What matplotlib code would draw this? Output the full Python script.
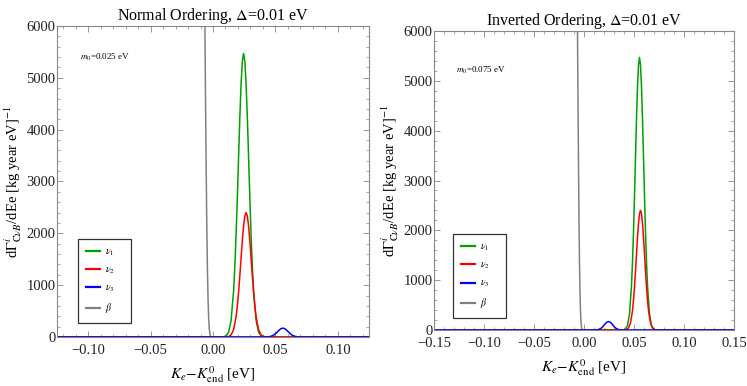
import matplotlib
matplotlib.use("Agg")
import matplotlib.pyplot as plt
import matplotlib.ticker as mtick

plt.rcParams["font.family"] = ["Liberation Serif", "DejaVu Serif"]
plt.rcParams["mathtext.fontset"] = "stix"

# ---- data ----
# normal ordering, m0 = 0.025 eV
no_green_x = [-0.15, 0.0085, 0.0105, 0.0125, 0.0145, 0.0165, 0.0175, 0.0185, 0.0195, 0.0205, 0.0215, 0.0225, 0.0235,
              0.0245, 0.0255, 0.0265, 0.0275, 0.0285, 0.0295, 0.0305, 0.0315, 0.0325, 0.0345, 0.0365, 0.0385, 0.0405, 0.15]
no_green_y = [0, 4, 21, 92, 322, 892, 1364, 1971, 2692, 3476, 4238, 4884, 5317,
              5470, 5317, 4884, 4238, 3476, 2692, 1971, 1364, 892, 322, 92, 21, 4, 0]
no_red_x = [-0.15, 0.0105, 0.0125, 0.0145, 0.0165, 0.0185, 0.0195, 0.0205, 0.0215, 0.0225, 0.0235, 0.0245, 0.0255,
            0.0265, 0.0275, 0.0285, 0.0295, 0.0305, 0.0315, 0.0325, 0.0335, 0.0345, 0.0365, 0.0385, 0.0405, 0.0425, 0.15]
no_red_y = [0, 2, 9, 41, 141, 391, 599, 865, 1181, 1525, 1860, 2143, 2333,
            2400, 2333, 2143, 1860, 1525, 1181, 865, 599, 391, 141, 41, 9, 2, 0]
no_blue_x = [-0.15, 0.040, 0.042, 0.044, 0.046, 0.048, 0.049, 0.050, 0.051, 0.052, 0.053, 0.054, 0.055,
             0.056, 0.057, 0.058, 0.059, 0.060, 0.061, 0.062, 0.063, 0.064, 0.066, 0.068, 0.070, 0.072, 0.15]
no_blue_y = [0, 0, 1, 3, 10, 28, 42, 61, 84, 108, 132, 152, 165,
             170, 165, 152, 132, 108, 84, 61, 42, 28, 10, 3, 1, 0, 0]

# inverted ordering, m0 = 0.075 eV
io_green_x = [-0.15, 0.0395, 0.0415, 0.0435, 0.0455, 0.0475, 0.0485, 0.0495, 0.0505, 0.0515, 0.0525, 0.0535, 0.0545,
              0.0555, 0.0565, 0.0575, 0.0585, 0.0595, 0.0605, 0.0615, 0.0625, 0.0635, 0.0655, 0.0675, 0.0695, 0.0715, 0.15]
io_green_y = no_green_y
io_red_x = [-0.15, 0.0405, 0.0425, 0.0445, 0.0465, 0.0485, 0.0495, 0.0505, 0.0515, 0.0525, 0.0535, 0.0545, 0.0555,
            0.0565, 0.0575, 0.0585, 0.0595, 0.0605, 0.0615, 0.0625, 0.0635, 0.0645, 0.0665, 0.0685, 0.0705, 0.0725, 0.15]
io_red_y = no_red_y
io_blue_x = no_green_x
io_blue_y = [0, 0, 1, 3, 10, 28, 42, 61, 84, 108, 132, 152, 165,
             170, 165, 152, 132, 108, 84, 61, 42, 28, 10, 3, 1, 0, 0]

# beta spectrum near the endpoint (same in both panels)
beta_x = [-0.150, -0.0080, -0.0075, -0.0070, -0.0065, -0.0060, -0.0055, -0.0050, -0.0045, -0.0040,
          -0.0035, -0.0030, -0.0025, -0.0020, -0.0015, -0.0010, 0.150]
beta_y = [20000, 10500, 9000, 7500, 6000, 4600, 3300, 2200, 1350, 750, 370, 160, 60, 18, 4, 0, 0]

labels = [r"$\nu_1$", r"$\nu_2$", r"$\nu_3$", r"$\beta$"]
colors = ["#00a000", "#ff0000", "#0000ff", "#808080"]

panels = [
    dict(title="Normal Ordering, $\\Delta$=0.01 eV", note=r"$m_0$=0.025 eV",
         curves=[(no_green_x, no_green_y), (no_red_x, no_red_y), (no_blue_x, no_blue_y), (beta_x, beta_y)],
         xlim=(-0.125, 0.125), xticks=[-0.10, -0.05, 0.0, 0.05, 0.10],
         rect=[0.0763, 0.127, 0.4177, 0.8057], note_pos=(0.074, 0.90), leg_pos=(0.067, 0.045)),
    dict(title="Inverted Ordering, $\\Delta$=0.01 eV", note=r"$m_0$=0.075 eV",
         curves=[(io_green_x, io_green_y), (io_red_x, io_red_y), (io_blue_x, io_blue_y), (beta_x, beta_y)],
         xlim=(-0.15, 0.15), xticks=[-0.15, -0.10, -0.05, 0.0, 0.05, 0.10, 0.15],
         rect=[0.581, 0.145, 0.4016, 0.7746], note_pos=(0.073, 0.87), leg_pos=(0.063, 0.040)),
]

fig = plt.figure(figsize=(7.47, 3.86), dpi=100)

def fmt(v, pos):
    s = "%.2f" % v
    if s.startswith("-"):
        s = "\u2212" + s[1:]
    if s == "\u22120.00":
        s = "0.00"
    return s

for p in panels:
    ax = fig.add_axes(p["rect"])
    # draw order: gray first, blue last so the baseline looks blue
    order = [3, 0, 1, 2]
    handles = {}
    for i in order:
        xs, ys = p["curves"][i]
        h, = ax.plot(xs, ys, color=colors[i], lw=1.1, label=labels[i])
        handles[i] = h
    ax.set_xlim(*p["xlim"])
    ax.set_ylim(0, 6000)
    ax.set_xticks(p["xticks"])
    ax.xaxis.set_major_formatter(mtick.FuncFormatter(fmt))
    ax.xaxis.set_minor_locator(mtick.MultipleLocator(0.01))
    ax.set_yticks([0, 1000, 2000, 3000, 4000, 5000, 6000])
    ax.yaxis.set_minor_locator(mtick.MultipleLocator(200))
    ax.tick_params(which="both", direction="in", top=True, right=True, color="#888888",
                   labelsize=10.5, labelcolor="#222222")
    ax.tick_params(which="major", length=4, width=0.6)
    ax.tick_params(which="minor", length=2, width=0.5)
    ax.tick_params(axis="y", pad=1)
    ax.tick_params(axis="x", pad=5)
    for sp in ax.spines.values():
        sp.set_color("#888888")
        sp.set_linewidth(0.8)
    ax.set_title(p["title"], fontsize=11.5, pad=4)
    ax.set_xlabel(r"$K_e\!-\!K^{0}_{\mathrm{end}}$ [eV]", fontsize=11, labelpad=5)
    ax.set_ylabel(r"d$\Gamma^{i}_{\mathrm{C}\nu B}$/dEe [kg year eV]$^{-1}$", fontsize=10.5, labelpad=2)
    ax.text(p["note_pos"][0], p["note_pos"][1], p["note"], transform=ax.transAxes,
            fontsize=6.5, ha="left", va="center")
    leg = ax.legend([handles[i] for i in range(4)], [l + "    " for l in labels], loc="lower left",
                    bbox_to_anchor=p["leg_pos"], borderaxespad=0, fontsize=7,
                    handlelength=1.5, handletextpad=0.5, labelspacing=0.7, borderpad=0.8,
                    fancybox=False, framealpha=1, edgecolor="#333333")
    leg.get_frame().set_linewidth(0.9)
    for ln in leg.get_lines():
        ln.set_linewidth(1.6)

fig.savefig("out.png", dpi=100)
